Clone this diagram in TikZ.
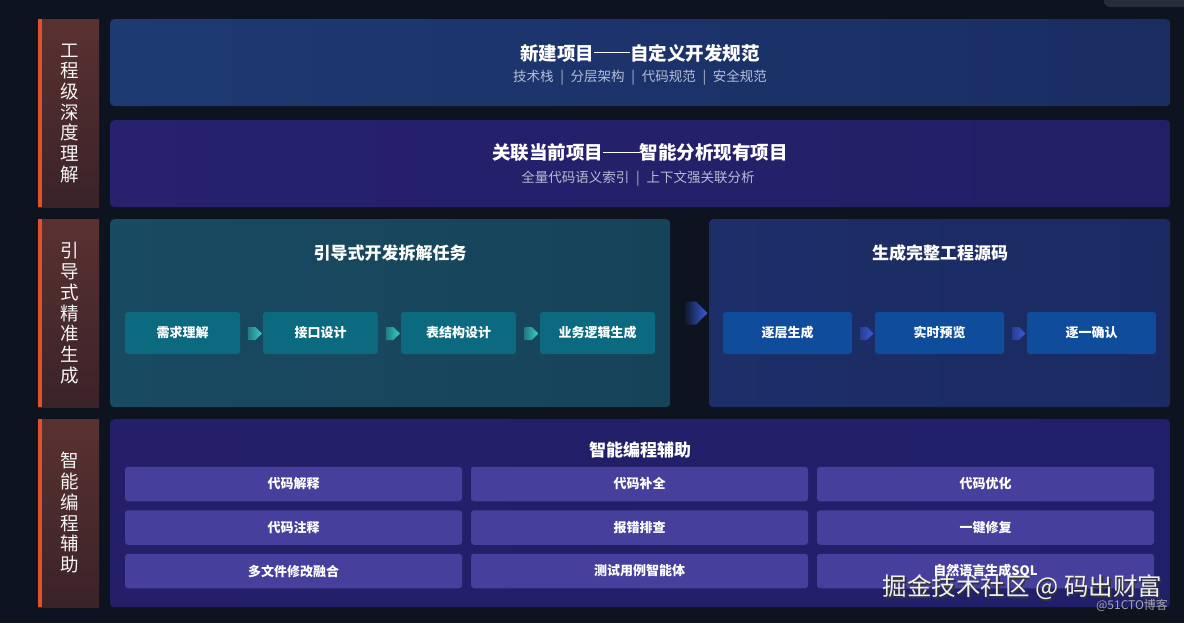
\documentclass[tikz,border=0pt]{standalone}
\usepackage{fontspec}
\setmainfont{Noto Sans CJK SC}
\usetikzlibrary{shapes.symbols,calc}
\definecolor{bg}{HTML}{0D1420}
\definecolor{lbtop}{HTML}{5A3131}
\definecolor{lbbot}{HTML}{3A2329}
\definecolor{lbbar}{HTML}{E0532A}
\definecolor{pAl}{HTML}{1D3A72}
\definecolor{pAr}{HTML}{1A2D63}
\definecolor{pBl}{HTML}{27216E}
\definecolor{pBr}{HTML}{221F66}
\definecolor{pTl}{HTML}{184A62}
\definecolor{pTr}{HTML}{174359}
\definecolor{pUl}{HTML}{1C2F68}
\definecolor{pUr}{HTML}{1B2A62}
\definecolor{pCl}{HTML}{241F68}
\definecolor{pCr}{HTML}{20206A}
\definecolor{stepT}{HTML}{0C6A80}
\definecolor{stepU}{HTML}{0F4C9C}
\definecolor{cell}{HTML}{46409C}
\definecolor{subtxt}{HTML}{B4BDD6}
\definecolor{arrT}{HTML}{35D0C0}
\definecolor{arrU}{HTML}{3A5CE0}
\definecolor{corner}{HTML}{272D39}
\newcommand{\longdash}{\rule[0.36em]{1.95em}{0.075em}}
\begin{document}
\begin{tikzpicture}[x=1pt,y=-1pt,
  panel/.style={rounded corners=4pt, inner sep=0pt, anchor=north west, draw=none},
  lab/.style={inner sep=0pt, anchor=north west, minimum width=61pt, top color=lbtop, bottom color=lbbot},
  labtxt/.style={align=center, text=white!92!gray, font=\fontsize{18.5}{20.7}\selectfont, inner sep=0pt},
  bigtitle/.style={text=white, font=\fontsize{18.5}{20}\selectfont\bfseries, inner sep=0pt},
  subtitle/.style={text=subtxt, font=\fontsize{13.5}{15}\selectfont, inner sep=0pt},
  sectitle/.style={text=white, font=\fontsize{17}{19}\selectfont\bfseries, inner sep=0pt},
  stepbox/.style={rounded corners=3pt, inner sep=0pt, minimum height=42pt, text=white, font=\fontsize{13}{15}\selectfont\bfseries},
  cellbox/.style={rounded corners=3pt, inner sep=0pt, minimum width=337pt, minimum height=34.5pt, fill=cell, text=white, font=\fontsize{13}{15}\selectfont\bfseries},
  arr/.style={signal, signal to=east, signal pointer angle=90, inner sep=0pt, minimum width=14pt, minimum height=13pt, draw=none}]
\fill[bg] (0,0) rectangle (1184,623);
\useasboundingbox (0,0) rectangle (1184,623);
% top-right corner shape
\fill[corner, rounded corners=6pt] (1104,-10) -- (1104,7) -- (1200,7) -- (1200,-10) -- cycle;

% ---------- left labels ----------
\node[lab, minimum height=188pt] (l1) at (38,19) {};
\node[lab, minimum height=188pt] (l2) at (38,219) {};
\node[lab, minimum height=188pt] (l3) at (38,419) {};
\foreach \y in {19,219,419}{ \fill[lbbar] (38,\y) rectangle (42,\y+188); }
\node[labtxt] (l1t) at ($(l1.center)+(1,0)$) {工\\程\\级\\深\\度\\理\\解};
\node[labtxt] (l2t) at ($(l2.center)+(1,0)$) {引\\导\\式\\精\\准\\生\\成};
\node[labtxt] (l3t) at ($(l3.center)+(1,-0.5)$) {智\\能\\编\\程\\辅\\助};

% ---------- row 1 ----------
\node[panel, minimum width=1060pt, minimum height=87pt, left color=pAl, right color=pAr] (p1) at (110,19) {};
\node[bigtitle] (p1t) at (640,53) {新建项目\longdash 自定义开发规范};
\node[subtitle] (p1s) at (640,78) {技术栈\enspace|\enspace 分层架构\enspace|\enspace 代码规范\enspace|\enspace 安全规范};

\node[panel, minimum width=1060pt, minimum height=87pt, left color=pBl, right color=pBr] (p2) at (110,120) {};
\node[bigtitle] (p2t) at (640,153) {关联当前项目\longdash 智能分析现有项目};
\node[subtitle] (p2s) at (638,179) {全量代码语义索引\enspace|\enspace 上下文强关联分析};

% ---------- row 2 ----------
\node[panel, minimum width=560pt, minimum height=188pt, left color=pTl, right color=pTr] (pt) at (110,219) {};
\node[sectitle] (ptt) at (390,253) {引导式开发拆解任务};
\node[stepbox, minimum width=115pt, fill=stepT] (a1) at (182.5,333) {需求理解};
\node[stepbox, minimum width=115pt, fill=stepT] (a2) at (320.5,333) {接口设计};
\node[stepbox, minimum width=115pt, fill=stepT] (a3) at (458.5,333) {表结构设计};
\node[stepbox, minimum width=115pt, fill=stepT] (a4) at (597.5,333) {业务逻辑生成};
\node[arr, left color=arrT!35!pTl, right color=arrT] (aa1) at ($(a1.east)!0.5!(a2.west)+(0,0.5)$) {};
\node[arr, left color=arrT!35!pTl, right color=arrT] (aa2) at ($(a2.east)!0.5!(a3.west)+(0,0.5)$) {};
\node[arr, left color=arrT!35!pTl, right color=arrT] (aa3) at ($(a3.east)!0.5!(a4.west)+(0,0.5)$) {};

\node[panel, minimum width=461pt, minimum height=188pt, left color=pUl, right color=pUr] (pu) at (709,219) {};
\node[sectitle] (put) at (940,253) {生成完整工程源码};
\node[stepbox, minimum width=129pt, fill=stepU] (b1) at (787.5,333) {逐层生成};
\node[stepbox, minimum width=129pt, fill=stepU] (b2) at (939.5,333) {实时预览};
\node[stepbox, minimum width=129pt, fill=stepU] (b3) at (1091.5,333) {逐一确认};
\node[arr, minimum width=13pt, left color=arrU!35!pUl, right color=arrU] (bb1) at ($(b1.east)!0.5!(b2.west)+(0,0.5)$) {};
\node[arr, minimum width=13pt, left color=arrU!35!pUl, right color=arrU] (bb2) at ($(b2.east)!0.5!(b3.west)+(0,0.5)$) {};

\node[arr, minimum width=24pt, minimum height=23pt, left color=bg, right color=arrU] (big) at ($(pt.east)!0.5!(pu.west)$) {};

% ---------- row 3 ----------
\node[panel, minimum width=1060pt, minimum height=188pt, left color=pCl, right color=pCr] (pc) at (110,419) {};
\node[sectitle] (pct) at (640,450) {智能编程辅助};
\node[cellbox] (c11) at (293.5,484) {代码解释};
\node[cellbox] (c12) at (639.5,484) {代码补全};
\node[cellbox] (c13) at (985.5,484) {代码优化};
\node[cellbox] (c21) at (293.5,527.5) {代码注释};
\node[cellbox] (c22) at (639.5,527.5) {报错排查};
\node[cellbox] (c23) at (985.5,527.5) {一键修复};
\node[cellbox] (c31) at (293.5,571) {多文件修改融合};
\node[cellbox] (c32) at (639.5,571) {测试用例智能体};
\node[cellbox] (c33) at (985.5,571) {自然语言生成SQL};

% ---------- watermarks ----------
\node[text=black!80, font=\fontsize{24.5}{26}\selectfont, inner sep=0pt] (wm0) at (1024,589) {掘金技术社区 @ 码出财富};
\node[text=white!88!gray, font=\fontsize{24.5}{26}\selectfont, inner sep=0pt] (wm) at (1022.5,587.5) {掘金技术社区 @ 码出财富};
\node[text=gray!70, font=\fontsize{12}{13}\selectfont, inner sep=0pt] (wm2) at (1132,605) {@51CTO博客};
\end{tikzpicture}
\end{document}
